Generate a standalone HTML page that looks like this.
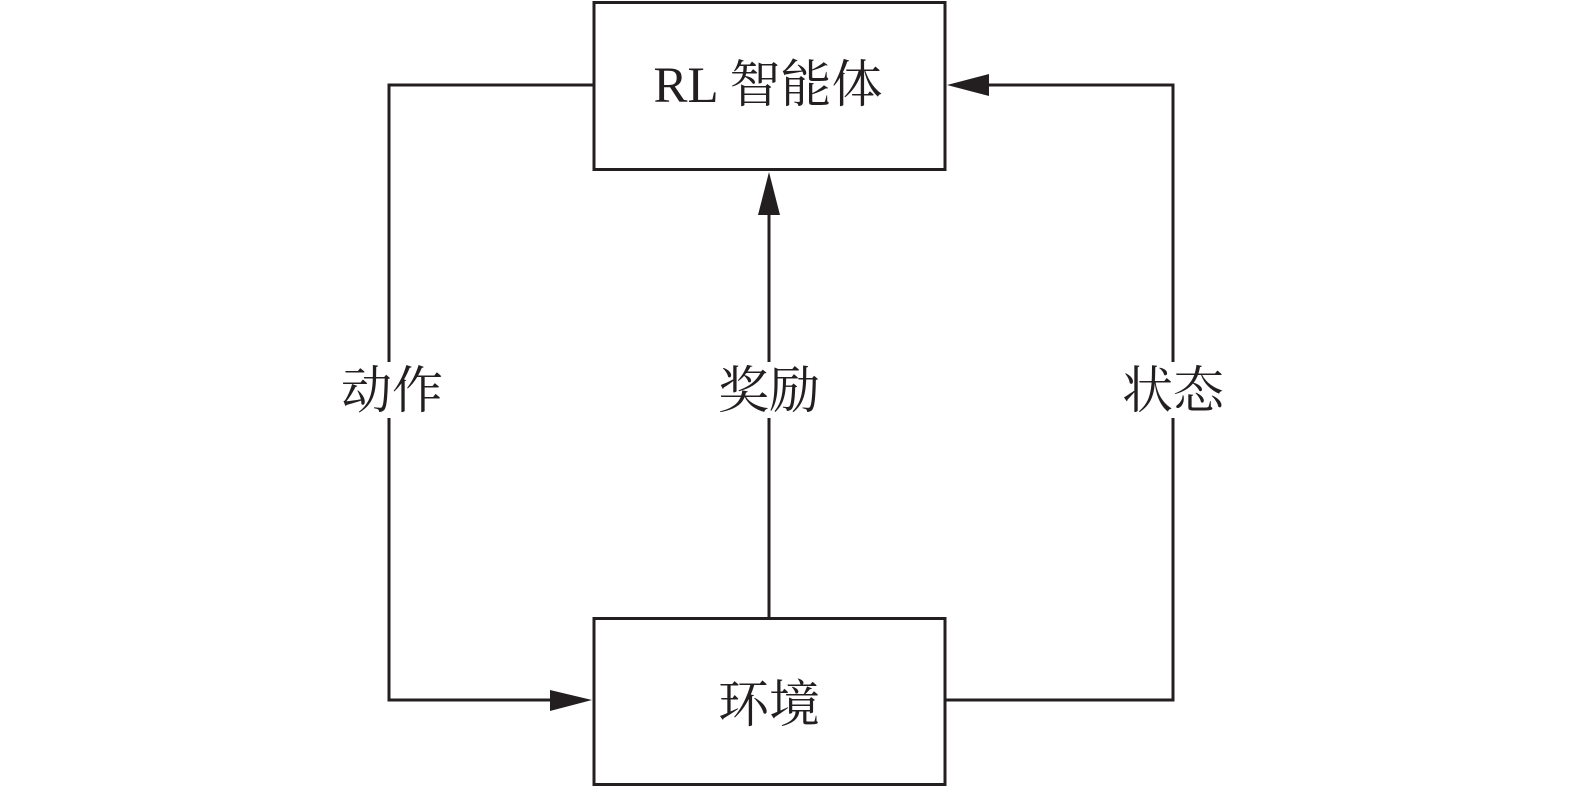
<!DOCTYPE html>
<html><head><meta charset="utf-8"><style>
html,body{margin:0;padding:0;background:#fff;}
</style></head><body>
<svg width="1575" height="792" viewBox="0 0 1575 792" xmlns="http://www.w3.org/2000/svg" style="display:block">
<g stroke="#231f20" stroke-width="3" fill="none">
<rect x="594" y="2.5" width="351" height="167"/>
<rect x="594" y="618.5" width="351" height="166"/>
<polyline points="594,85 389,85 389,700 555,700"/>
<polyline points="945,700 1173,700 1173,85 985,85"/>
<line x1="769" y1="618" x2="769" y2="210"/>
</g>
<g fill="#231f20">
<polygon points="592,700 550,690 550,711"/>
<polygon points="947,85 989,74 989,96"/>
<polygon points="769,172 758,215 780,215"/>
</g>
<g fill="#fff">
<rect x="336" y="362" width="112" height="56"/>
<rect x="712" y="362" width="114" height="56"/>
<rect x="1116" y="362" width="114" height="56"/>
</g>
<g font-family="'Liberation Serif','Noto Serif CJK SC',serif" font-size="51" fill="#231f20" text-anchor="middle">
<text x="768" y="102">RL 智能体</text>
<text x="769" y="722">环境</text>
<text x="392" y="408">动作</text>
<text x="769" y="408">奖励</text>
<text x="1173" y="408">状态</text>
</g>
</svg>
</body></html>
